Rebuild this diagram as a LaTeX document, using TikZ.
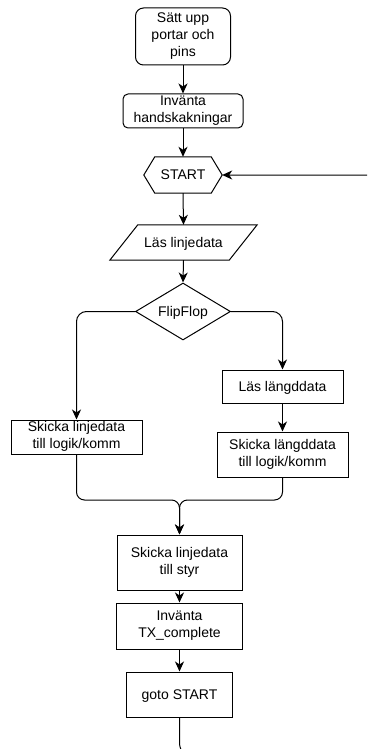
\documentclass[tikz,border=0pt]{standalone}
\usepackage{fontspec}
\setmainfont{Liberation Sans}
\usetikzlibrary{arrows.meta,shapes.geometric}
\begin{document}
\begin{tikzpicture}[x=1pt,y=-1pt,
  every node/.style={font=\fontsize{14}{16.8}\selectfont, align=center, inner sep=0pt,
    execute at begin node={\rule{0pt}{13pt}}, execute at end node={\rule[-3.5pt]{0pt}{3.5pt}}},
  box/.style={draw, line width=1pt, fill=white, rectangle},
  conn/.style={line width=1pt, -{Stealth[length=10pt,width=9pt,inset=3pt]}},
  plain/.style={line width=1pt},
]
\useasboundingbox (0,0) rectangle (367,749);
\clip (0,0) rectangle (367,749);

\node[box, rounded corners=8pt, minimum width=95pt, minimum height=57pt] (s1) at (183,36.5) {Sätt upp\\portar och\\pins};
\node[box, rounded corners=5pt, minimum width=120pt, minimum height=34pt] (s2) at (183,111) {Invänta\\handskakningar};
\node[minimum width=78pt, minimum height=36pt] (st) at (183,175) {START};
\draw[plain] ([xshift=11pt]st.north west) -- ([xshift=-11pt]st.north east) -- (st.east) -- ([xshift=-11pt]st.south east) -- ([xshift=11pt]st.south west) -- (st.west) -- cycle;
\node[minimum width=119pt, minimum height=35pt] (ld) at (183.5,242.5) {Läs linjedata};
\draw[plain] ([xshift=-14pt]ld.south west) -- ([xshift=14pt]ld.north west) -- ([xshift=14pt]ld.north east) -- ([xshift=-14pt]ld.south east) -- cycle;
\node[diamond, draw, line width=1pt, minimum width=95pt, minimum height=57pt, aspect=1.67] (ff) at (183,311.5) {FlipFlop};

\node[box, minimum width=131pt, minimum height=34pt] (L) at (76.5,437) {Skicka linjedata\\till logik/komm};
\node[box, minimum width=121pt, minimum height=33pt] (R1) at (282.5,386.5) {Läs längddata};
\node[box, minimum width=131pt, minimum height=45pt] (R2) at (282.5,454.5) {Skicka längddata\\till logik/komm};
\node[box, minimum width=125pt, minimum height=55pt] (B1) at (179.5,562.5) {Skicka linjedata\\till styr};
\node[box, minimum width=126pt, minimum height=46pt] (B2) at (179.5,626) {Invänta\\TX\_complete};
\node[box, minimum width=106pt, minimum height=45pt] (B3) at (179.5,694.5) {goto START};

\draw[conn] (s1.south) -- (s2.north);
\draw[conn] (s2.south) -- (st.north);
\draw[conn] (st.south) -- (ld.north);
\draw[conn] (ld.south) -- (ff.north);
\draw[conn, rounded corners=10pt] (ff.west) -| (L.north);
\draw[conn, rounded corners=10pt] (ff.east) -| (R1.north);
\draw[conn] (R1.south) -- (R2.north);
\coordinate (m) at (179.5,500);
\draw[conn, rounded corners=8pt] (L.south) |- (m) -- (B1.north);
\draw[conn, rounded corners=8pt] (R2.south) |- (m) -- (B1.north);
\draw[conn] (B1.south) -- (B2.north);
\draw[conn] (B2.south) -- (B3.north);
\coordinate (c1) at (179.5,758);
\coordinate (c2) at (385,758);
\coordinate (c3) at (385,175);
\draw[conn, rounded corners=15pt] (B3.south) -- (c1) -- (c2) -- (c3) -- (st.east);
\end{tikzpicture}
\end{document}
